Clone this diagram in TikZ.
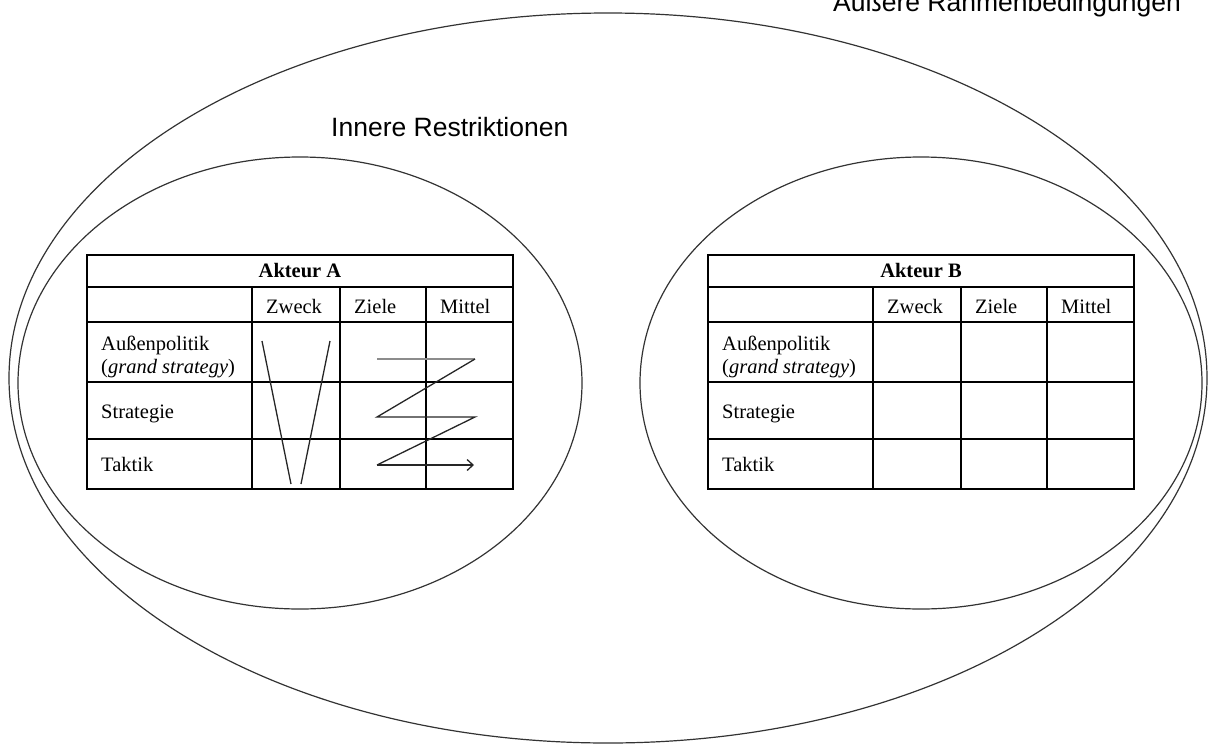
\documentclass[tikz,border=0pt]{standalone}
\usepackage{fontspec}
\setmainfont{Liberation Serif}
\newfontfamily\labelfont{Liberation Sans}
\usetikzlibrary{arrows.meta}
\tikzset{
  ring/.style={draw=black!80, line width=1.2pt},
  gridline/.style={draw=black, line width=2pt},
  celltext/.style={anchor=base west, inner sep=0pt, font=\fontsize{20.5}{23}\selectfont},
  headtext/.style={anchor=base, inner sep=0pt, font=\fontsize{20.5}{23}\selectfont\bfseries},
  biglabel/.style={anchor=base west, inner sep=0pt, font=\labelfont\fontsize{26.5}{30}\selectfont},
  flowline/.style={draw=black!85, line width=1.3pt},
  greyline/.style={draw=black!45, line width=2pt}
}
\newcommand\actortable[3]{%
\begin{scope}[shift={(#1,0)}]
  \draw[gridline] (87,255) rectangle (513,489);
  \foreach \yy in {287,322,382,439} \draw[gridline] (87,\yy) -- (513,\yy);
  \foreach \xx in {252,340,426} \draw[gridline] (\xx,287) -- (\xx,489);
  \node[headtext] (#2title) at (300,277) {#3};
  \node[celltext] (#2zweck) at (266,313) {Zweck};
  \node[celltext] (#2ziele) at (354,313) {Ziele};
  \node[celltext] (#2mittel) at (440,313) {Mittel};
  \node[celltext] (#2aussen) at (101,350) {Außenpolitik};
  \node[celltext] (#2grand) at (101,373) {(\textit{grand strategy})};
  \node[celltext] (#2strat) at (101,418) {Strategie};
  \node[celltext] (#2taktik) at (101,471) {Taktik};
\end{scope}}
\begin{document}
\begin{tikzpicture}[x=1pt,y=-1pt]
\useasboundingbox (0,0) rectangle (1210,745);
% ellipses
\draw[ring] (608,378) ellipse [x radius=599, y radius=365];
\draw[ring] (300,383) ellipse [x radius=282, y radius=226];
\draw[ring] (921,383) ellipse [x radius=281, y radius=226];
% labels
\node[biglabel] (aussen) at (833,11) {Äußere Rahmenbedingungen};
\node[biglabel] (innen) at (331,136) {Innere Restriktionen};
% tables
\actortable{0}{a}{Akteur A}
\actortable{621}{b}{Akteur B}
% V in Zweck column
\coordinate (v1) at (262,341);
\coordinate (v2) at (291,484);
\coordinate (v3) at (330,341);
\coordinate (v4) at (301,484);
\draw[flowline] (v1) -- (v2);
\draw[flowline] (v3) -- (v4);
% zigzag
\coordinate (z1) at (377,359);
\coordinate (z2) at (475,359);
\coordinate (z3) at (377,417);
\coordinate (z4) at (475,417);
\coordinate (z5) at (377,465);
\coordinate (z6) at (474,465);
\draw[greyline] (z1) -- (z2);
\draw[flowline, line join=miter] (z2) -- (z3) -- (z4) -- (z5);
\draw[flowline, -{Straight Barb[length=6pt,width=11pt]}] (z5) -- (z6);
\end{tikzpicture}
\end{document}
